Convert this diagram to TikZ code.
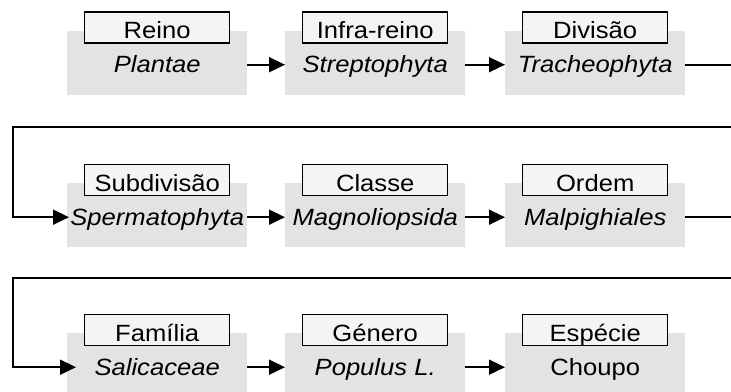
\documentclass[tikz,border=0pt]{standalone}
\usepackage{fontspec}
\setmainfont{Liberation Sans}[FakeStretch=1.09]
\usetikzlibrary{arrows.meta}
\definecolor{boxgray}{HTML}{E3E3E3}
\definecolor{labfill}{HTML}{F4F4F4}
\begin{document}
\begin{tikzpicture}[x=1pt,y=-1pt,
  grp/.style={fill=boxgray, minimum width=180pt, minimum height=64pt, anchor=north west,
    inner sep=0pt, text height=20pt, text depth=0pt, font=\fontsize{23.5}{28}\selectfont\itshape},
  grpup/.style={grp, font=\fontsize{23.5}{28}\selectfont},
  lab/.style={draw, fill=labfill, line width=1.4pt, minimum width=145pt, minimum height=31pt,
    inner sep=0pt, text height=22pt, text depth=0pt, font=\fontsize{23.5}{28}\selectfont},
  conn/.style={line width=1.7pt, -{Triangle[length=16pt,width=15pt]}}]
\useasboundingbox (0,0) rectangle (731,391);
\fill[white] (0,0) rectangle (731,391);
\clip (0,0) rectangle (731,391);
% row 1
\node[grp] (g1) at (67,30.5) {Plantae};
\node[grp] (g2) at (285,30.5) {Streptophyta};
\node[grp] (g3) at (505,30.5) {Tracheophyta};
% row 2
\node[grp] (g4) at (67,183) {Spermatophyta};
\node[grp] (g5) at (285,183) {Magnoliopsida};
\node[grp] (g6) at (505,183) {Malpighiales};
% row 3
\node[grp] (g7) at (67,333) {Salicaceae};
\node[grp] (g8) at (285,333) {Populus L.};
\node[grpup] (g9) at (505,333) {Choupo};
% labels
\node[lab] (l1) at ([yshift=3pt]g1.north) {Reino};
\node[lab] (l2) at ([yshift=3pt]g2.north) {Infra-reino};
\node[lab] (l3) at ([yshift=3pt]g3.north) {Divisão};
\node[lab] (l4) at ([yshift=3pt]g4.north) {Subdivisão};
\node[lab] (l5) at ([yshift=3pt]g5.north) {Classe};
\node[lab] (l6) at ([yshift=3pt]g6.north) {Ordem};
\node[lab] (l7) at ([yshift=3pt]g7.north) {Família};
\node[lab] (l8) at ([yshift=3pt]g8.north) {Género};
\node[lab] (l9) at ([yshift=3pt]g9.north) {Espécie};
% wrap corners
\coordinate (w1) at (13,127);
\coordinate (w2) at (13,278);
% connectors
\draw[conn] ([yshift=-2pt]g1.east) -- ([yshift=-2pt]g2.west);
\draw[conn] ([yshift=-2pt]g2.east) -- ([yshift=-2pt]g3.west);
\draw[conn] ([yshift=-2pt]g3.east) -- ++(60,0) |- (w1) |- ([xshift=2pt,yshift=-2pt]g4.west);
\draw[conn] ([yshift=-2pt]g4.east) -- ([yshift=-2pt]g5.west);
\draw[conn] ([yshift=-2pt]g5.east) -- ([yshift=-2pt]g6.west);
\draw[conn] ([yshift=-2pt]g6.east) -- ++(60,0) |- (w2) |- ([xshift=9pt,yshift=-2pt]g7.west);
\draw[conn] ([yshift=-2pt]g7.east) -- ([yshift=-2pt]g8.west);
\draw[conn] ([yshift=-2pt]g8.east) -- ([yshift=-2pt]g9.west);
\end{tikzpicture}
\end{document}
